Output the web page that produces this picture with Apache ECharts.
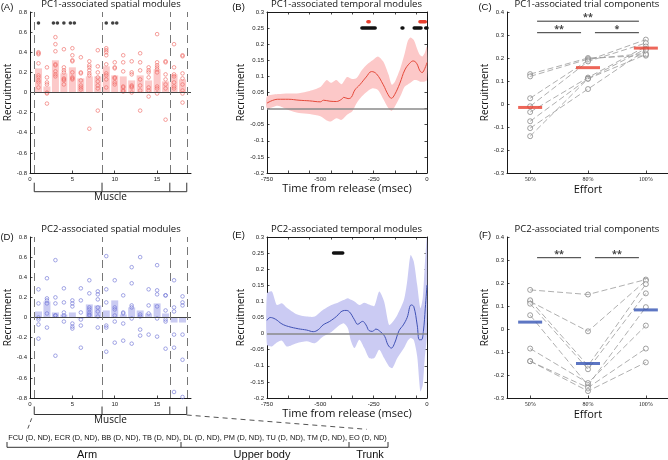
<!DOCTYPE html>
<html>
<head>
<meta charset="utf-8">
<script src="https://cdn.jsdelivr.net/npm/echarts@6/dist/echarts.min.js"></script>
<style>
html, body { margin: 0; padding: 0; background: #fff; }
#chart { width: 668px; height: 460px; }
</style>
</head>
<body>
<div id="chart"></div>
<script>
// ---- spatial modules (A, D) ----
const muscles = [1, 2, 3, 4, 5, 6, 7, 8, 9, 10, 11, 12, 13, 14, 15, 16, 17, 18];
const groupEdges = [0.5, 8.5, 16.5, 18.5];

const pc1Bars = [0.24, 0.06, 0.32, 0.19, 0.25, 0.14, 0.16, 0.16, 0.26, 0.17, 0.16, 0.12, 0.17, 0.12, 0.23, 0.11, 0.18, 0.13];
const pc1Dots = [
  [0.40, 0.39, 0.38, 0.29, 0.17, 0.15, 0.12, 0.10, 0.05],
  [0.25, 0.15, 0.10, 0.08, 0.00, -0.01, -0.11],
  [0.55, 0.48, 0.41, 0.28, 0.27, 0.21, 0.18, 0.16],
  [0.43, 0.25, 0.22, 0.20, 0.14, 0.13, 0.12, 0.08],
  [0.44, 0.37, 0.32, 0.31, 0.20, 0.15, 0.14, 0.13],
  [0.35, 0.20, 0.19, 0.12, 0.07, 0.05, 0.03],
  [0.31, 0.27, 0.25, 0.22, 0.19, 0.17, -0.36],
  [0.42, 0.26, 0.20, 0.15, 0.11, 0.07, 0.04, -0.18],
  [0.44, 0.42, 0.40, 0.37, 0.28, 0.19, 0.17, 0.13, 0.05],
  [0.30, 0.25, 0.24, 0.15, 0.14, 0.10, 0.08],
  [0.37, 0.30, 0.21, 0.06, 0.05, 0.02, 0.01],
  [0.31, 0.20, 0.18, 0.07, 0.06, 0.05, 0.00],
  [0.39, 0.30, 0.22, 0.13, 0.07, 0.02, -0.18],
  [0.25, 0.22, 0.20, 0.15, 0.05, 0.02, -0.04],
  [0.58, 0.30, 0.27, 0.25, 0.23, 0.20, 0.06, 0.04, -0.01],
  [0.31, 0.30, 0.18, 0.13, 0.08, 0.04, -0.27],
  [0.48, 0.25, 0.18, 0.16, 0.10, 0.06, 0.04],
  [0.37, 0.36, 0.19, 0.14, 0.08, 0.02, -0.01, -0.10]
];
const spatialSig1 = [[1, '*'], [3, '**'], [4, '*'], [5, '**'], [9, '*'], [10, '**']];
const sigLevelA = 0.69;

const pc2Bars = [0.06, 0.16, 0.05, 0.03, 0.05, -0.01, 0.13, 0.12, 0.07, 0.17, 0.03, 0.10, 0.07, 0.04, 0.14, 0.04, -0.05, -0.05];
const pc2Dots = [
  [0.28, 0.14, 0.00, -0.02, -0.07, -0.21],
  [0.39, 0.19, 0.17, 0.14, 0.04, -0.10],
  [0.57, 0.20, 0.14, 0.02, 0.02, -0.38],
  [0.29, 0.15, 0.05, 0.02, -0.04],
  [0.17, 0.14, 0.11, -0.06, -0.09, -0.11],
  [0.29, 0.17, 0.05, -0.02, -0.08, -0.30],
  [0.37, 0.24, 0.10, 0.08, 0.05, 0.03, 0.02],
  [0.26, 0.23, 0.18, 0.10, 0.06, 0.01, -0.10],
  [0.61, 0.28, 0.15, -0.08, -0.10, -0.34],
  [0.37, 0.10, 0.08, 0.02, -0.04, -0.25],
  [0.22, 0.05, 0.04, -0.06, -0.23],
  [0.50, 0.34, 0.12, 0.10, -0.01, -0.26],
  [0.60, 0.03, 0.01, -0.12, -0.18],
  [0.28, 0.12, 0.04, -0.17],
  [0.52, 0.27, 0.23, 0.11, -0.01, -0.19],
  [0.22, 0.22, 0.07, -0.02, -0.04, -0.31],
  [0.37, 0.10, 0.06, -0.17, -0.30, -0.74],
  [0.21, 0.15, 0.12, -0.17, -0.42, -0.79]
];

// ---- temporal modules (B, E) ----
const timeLabels = [-750, -500, -250, 0];
const timeTicks = [-650, -550, -450, -350, -250, -150, -50];

const meanTimeB = [-750, -700, -650, -600, -550, -500, -485, -455, -425, -400, -390, -370, -355, -338, -315, -285, -260, -237, -205, -182, -167, -152, -127, -104, -81, -65, -49, -33, -23, -10, 0];
const meanB = [0.017, 0.029, 0.029, 0.026, 0.024, 0.021, 0.026, 0.023, 0.022, 0.029, 0.035, 0.031, 0.035, 0.058, 0.074, 0.098, 0.115, 0.108, 0.074, 0.043, 0.032, 0.043, 0.079, 0.120, 0.141, 0.148, 0.141, 0.117, 0.112, 0.125, 0.143];
const bandTimeB = [-750, -700, -650, -600, -550, -500, -470, -450, -425, -400, -375, -350, -330, -305, -280, -255, -230, -205, -180, -165, -150, -125, -105, -90, -78, -62, -47, -34, -22, -11, 0];
const highB = [0.038, 0.045, 0.047, 0.048, 0.055, 0.067, 0.089, 0.080, 0.089, 0.076, 0.098, 0.092, 0.095, 0.120, 0.138, 0.150, 0.162, 0.146, 0.105, 0.074, 0.084, 0.125, 0.170, 0.210, 0.221, 0.213, 0.187, 0.167, 0.162, 0.172, 0.193];
const lowB = [0.001, 0.009, -0.004, -0.014, -0.017, -0.024, -0.037, -0.040, -0.030, -0.035, -0.019, -0.008, 0.017, 0.038, 0.053, 0.063, 0.058, 0.030, 0.000, -0.007, 0.007, 0.038, 0.068, 0.075, 0.080, 0.088, 0.088, 0.084, 0.083, 0.084, 0.089];
const sigBlackB = [[-305, -243], [-117, -113], [-60, -28], [-6, 0]];
const sigRedB = [[-277, -271], [-33, -8]];

const meanTimeE = [-750, -735, -711, -680, -649, -603, -564, -533, -510, -487, -456, -425, -394, -379, -363, -340, -325, -302, -286, -271, -255, -240, -217, -198, -183, -167, -152, -131, -111, -93, -74, -62, -46, -36, -26, -17, -8, 0];
const meanE = [0.041, 0.050, 0.045, 0.030, 0.022, 0.015, 0.011, 0.006, 0.012, 0.027, 0.038, 0.053, 0.071, 0.072, 0.067, 0.043, 0.029, 0.038, 0.027, 0.009, 0.007, 0.014, 0.005, -0.009, -0.035, -0.045, -0.030, 0.009, 0.027, 0.050, 0.089, 0.084, 0.027, -0.019, -0.019, 0.007, 0.079, 0.151];
const bandTimeE = [-750, -727, -704, -680, -657, -611, -564, -526, -487, -448, -418, -391, -371, -356, -340, -317, -294, -271, -247, -224, -201, -178, -162, -139, -108, -93, -77, -62, -46, -31, -20, -11, 0];
const highE = [0.125, 0.131, 0.089, 0.094, 0.080, 0.060, 0.053, 0.053, 0.074, 0.089, 0.096, 0.104, 0.110, 0.105, 0.100, 0.089, 0.096, 0.090, 0.086, 0.131, 0.100, 0.027, 0.035, 0.058, 0.105, 0.162, 0.244, 0.224, 0.151, 0.079, 0.110, 0.203, 0.300];
const lowE = [-0.035, -0.040, -0.028, -0.022, -0.040, -0.030, -0.024, -0.030, -0.009, 0.005, 0.022, 0.032, 0.017, -0.024, -0.045, -0.019, -0.045, -0.076, -0.076, -0.050, -0.076, -0.102, -0.107, -0.076, -0.045, -0.025, -0.014, -0.020, -0.070, -0.180, -0.160, -0.080, 0.001];
const sigBlackE = [[-438, -395]];
const sigLevelT = 0.25;
const sigLevelTRed = 0.27;

// ---- trial components (C, F) ----
const efforts = ['50%', '80%', '100%'];
const pc1Trials = [
  [0.13, 0.20, 0.21],
  [0.12, 0.195, 0.22],
  [0.025, 0.19, 0.28],
  [-0.01, 0.185, 0.265],
  [-0.035, 0.115, 0.25],
  [-0.075, 0.11, 0.24],
  [-0.105, 0.065, 0.235],
  [-0.14, 0.11, 0.215]
];
const pc1Means = [-0.015, 0.158, 0.243];
const trialSig1 = [[1, 2, 0.31, '**'], [2, 3, 0.31, '*'], [1, 3, 0.36, '**']];

const pc2Trials = [
  [0.17, 0.15, 0.215],
  [0.12, -0.01, 0.21],
  [0.125, -0.16, 0.195],
  [0.11, -0.175, 0.155],
  [0.06, -0.245, 0.095],
  [-0.085, -0.235, 0.015],
  [-0.14, -0.255, -0.085],
  [-0.14, -0.27, -0.145]
];
const pc2Means = [0.03, -0.15, 0.083];
const trialSig2 = [[1, 2, 0.31, '**'], [2, 3, 0.31, '**']];

// ---- layout ----
const grids = [
  { left: 30, top: 12, width: 161, height: 161 },
  { left: 267, top: 12, width: 160, height: 161 },
  { left: 507, top: 12, width: 162, height: 161 },
  { left: 30, top: 237, width: 161, height: 161 },
  { left: 267, top: 237, width: 160, height: 161 },
  { left: 507, top: 237, width: 162, height: 161 }
];

const AX = '#1a1a1a';
const tickLbl = { fontSize: 6, color: '#222', fontFamily: 'Liberation Sans', margin: 3 };
const nameStyle = { fontSize: 10, color: '#111', fontFamily: 'Open Sans' };

function axis(grid, extra) {
  return Object.assign({
    gridIndex: grid,
    type: 'value',
    axisLine: { show: true, onZero: false, lineStyle: { color: AX, width: 1 } },
    axisTick: { show: true, inside: true, length: 2.5, lineStyle: { color: AX, width: 0.8 } },
    axisLabel: Object.assign({}, tickLbl),
    splitLine: { show: false }
  }, extra);
}

function tickOnly(vals) {
  return { show: true, inside: true, length: 2.5, lineStyle: { color: AX, width: 0.8 }, customValues: vals };
}

const xAxis = [
  axis(0, { min: 0, max: 19, interval: 5, axisLabel: Object.assign({}, tickLbl, { showMaxLabel: false }) }),
  axis(1, { min: -750, max: 0, axisLabel: Object.assign({}, tickLbl, { customValues: timeLabels }), axisTick: tickOnly(timeTicks),
    name: 'Time from release (msec)', nameLocation: 'middle', nameGap: 10, nameTextStyle: Object.assign({}, nameStyle, { fontSize: 11 }) }),
  axis(1, { position: 'top', min: -750, max: 0, axisLabel: { show: false }, axisTick: tickOnly(timeTicks) }),
  axis(2, { min: 0.6, max: 3.4, axisLabel: Object.assign({}, tickLbl, { fontFamily: 'Liberation Serif', customValues: [1, 2, 3], formatter: v => efforts[Math.round(v) - 1] }),
    axisTick: tickOnly([1, 2, 3]), name: 'Effort', nameLocation: 'middle', nameGap: 11, nameTextStyle: Object.assign({}, nameStyle, { fontSize: 11 }) }),
  axis(3, { min: 0, max: 19, interval: 5, axisLabel: Object.assign({}, tickLbl, { showMaxLabel: false }) }),
  axis(4, { min: -750, max: 0, axisLabel: Object.assign({}, tickLbl, { customValues: timeLabels }), axisTick: tickOnly(timeTicks),
    name: 'Time from release (msec)', nameLocation: 'middle', nameGap: 10, nameTextStyle: Object.assign({}, nameStyle, { fontSize: 11 }) }),
  axis(4, { position: 'top', min: -750, max: 0, axisLabel: { show: false }, axisTick: tickOnly(timeTicks) }),
  axis(5, { min: 0.6, max: 3.4, axisLabel: Object.assign({}, tickLbl, { fontFamily: 'Liberation Serif', customValues: [1, 2, 3], formatter: v => efforts[Math.round(v) - 1] }),
    axisTick: tickOnly([1, 2, 3]), name: 'Effort', nameLocation: 'middle', nameGap: 11, nameTextStyle: Object.assign({}, nameStyle, { fontSize: 11 }) })
];

const yName = { name: 'Recruitment', nameLocation: 'middle', nameTextStyle: nameStyle };
const yAxis = [
  axis(0, Object.assign({ min: -0.8, max: 0.8, interval: 0.2, nameGap: 16 }, yName)),
  axis(1, Object.assign({ min: -0.2, max: 0.3, interval: 0.05, nameGap: 19 }, yName)),
  axis(1, { position: 'right', min: -0.2, max: 0.3, interval: 0.05, axisLabel: { show: false } }),
  axis(2, Object.assign({ min: -0.3, max: 0.4, interval: 0.1, nameGap: 16 }, yName)),
  axis(3, Object.assign({ min: -0.8, max: 0.8, interval: 0.2, nameGap: 16 }, yName)),
  axis(4, Object.assign({ min: -0.2, max: 0.3, interval: 0.05, nameGap: 19 }, yName)),
  axis(4, { position: 'right', min: -0.2, max: 0.3, interval: 0.05, axisLabel: { show: false } }),
  axis(5, Object.assign({ min: -0.3, max: 0.4, interval: 0.1, nameGap: 16 }, yName))
];

// ---- series builders ----
function spatialSeries(xi, yi, bars, dots, barColor, dotColor, sig) {
  const out = [];
  out.push({
    type: 'bar', xAxisIndex: xi, yAxisIndex: yi, barWidth: 7,
    data: muscles.map((m, i) => [m, bars[i]]),
    itemStyle: { color: barColor },
    markLine: {
      silent: true, symbol: 'none', label: { show: false }, animation: false,
      data: [{ yAxis: 0, lineStyle: { color: '#444', type: 'solid', width: 1.2 } }]
        .concat(groupEdges.map(v => ({ xAxis: v, lineStyle: { color: '#777', type: [8, 5], width: 1 } })))
    }
  });
  const pts = [];
  dots.forEach((arr, i) => arr.forEach(v => pts.push([muscles[i], v])));
  out.push({
    type: 'scatter', xAxisIndex: xi, yAxisIndex: yi, symbol: 'circle', symbolSize: 3.6, data: pts,
    itemStyle: { color: 'rgba(0,0,0,0)', borderColor: dotColor, borderWidth: 0.8 }
  });
  if (sig) {
    const stars = [];
    sig.forEach(([m, s]) => {
      const n = s.length;
      for (let k = 0; k < n; k++) stars.push([m + (k - (n - 1) / 2) * 0.47, sigLevelA]);
    });
    out.push({ type: 'scatter', xAxisIndex: xi, yAxisIndex: yi, symbol: 'circle', symbolSize: 3.6, data: stars, itemStyle: { color: '#111' } });
  }
  return out;
}

function temporalSeries(xi, yi, tMean, mean, tBand, low, high, bandColor, lineColor, sigs) {
  const out = [];
  // confidence band as one filled polygon: upper edge forward, lower edge back
  out.push({
    type: 'custom', xAxisIndex: xi, yAxisIndex: yi, silent: true,
    data: tBand.map((t, i) => [t, low[i], high[i]]),
    encode: { x: 0, y: [1, 2] },
    renderItem(params, api) {
      if (params.dataIndex !== 0) return null;
      const up = tBand.map((t, i) => api.coord([t, high[i]]));
      const dn = tBand.map((t, i) => api.coord([t, low[i]])).reverse();
      return { type: 'polygon', shape: { points: up.concat(dn), smooth: 0.25 }, style: { fill: bandColor } };
    }
  });
  out.push({
    type: 'line', xAxisIndex: xi, yAxisIndex: yi, symbol: 'none', smooth: 0.4,
    data: tMean.map((t, i) => [t, mean[i]]), lineStyle: { color: lineColor, width: 1 },
    markLine: { silent: true, symbol: 'none', label: { show: false }, animation: false,
      data: [{ yAxis: 0, lineStyle: { color: '#8a8a8a', type: 'solid', width: 1.5 } }] }
  });
  sigs.forEach(([segs, level, color]) => {
    segs.forEach(([a, b]) => out.push({
      type: 'line', xAxisIndex: xi, yAxisIndex: yi, symbol: 'none',
      data: [[a, level], [b, level]], lineStyle: { color, width: 3.5, cap: 'round' }
    }));
  });
  return out;
}

function trialSeries(xi, yi, trials, means, meanColor, sig) {
  const out = [];
  trials.forEach(row => out.push({
    type: 'line', xAxisIndex: xi, yAxisIndex: yi, symbol: 'none',
    data: row.map((v, j) => [j + 1, v]), lineStyle: { color: '#9a9a9a', width: 0.8, type: [6, 3] }
  }));
  const pts = [];
  trials.forEach(row => row.forEach((v, j) => pts.push([j + 1, v])));
  out.push({
    type: 'scatter', xAxisIndex: xi, yAxisIndex: yi, symbol: 'circle', symbolSize: 5, data: pts,
    itemStyle: { color: '#fff', borderColor: '#6e6e6e', borderWidth: 0.8 }
  });
  out.push({
    type: 'scatter', xAxisIndex: xi, yAxisIndex: yi, symbol: 'rect', symbolSize: [24, 3], z: 5,
    data: means.map((v, j) => [j + 1, v]), itemStyle: { color: meanColor }
  });
  sig.forEach(([a, b, level, s]) => {
    out.push({
      type: 'line', xAxisIndex: xi, yAxisIndex: yi, symbol: 'none',
      data: [[a + 0.12, level], [b - 0.12, level]], lineStyle: { color: '#333', width: 1 }
    });
    out.push({
      type: 'scatter', xAxisIndex: xi, yAxisIndex: yi, symbolSize: 0, data: [[(a + b) / 2, level]],
      label: { show: true, position: 'top', distance: -1, formatter: s, fontSize: 9, fontWeight: 'bold', color: '#111' }
    });
  });
  return out;
}

const series = [].concat(
  spatialSeries(0, 0, pc1Bars, pc1Dots, '#fcc9c9', '#ef6a64', spatialSig1),
  temporalSeries(1, 1, meanTimeB, meanB, bandTimeB, lowB, highB, '#fcc8c8', '#e5493a',
    [[sigBlackB, sigLevelT, '#111'], [sigRedB, sigLevelTRed, '#e8402f']]),
  trialSeries(3, 3, pc1Trials, pc1Means, '#e8402f', trialSig1),
  spatialSeries(4, 4, pc2Bars, pc2Dots, '#cacbf2', '#6f74d6', null),
  temporalSeries(5, 5, meanTimeE, meanE, bandTimeE, lowE, highE, '#cbcbf3', '#3f51b5',
    [[sigBlackE, sigLevelT, '#111']]),
  trialSeries(7, 7, pc2Trials, pc2Means, '#3454b4', trialSig2)
);

// ---- free text and brackets ----
function txt(text, x, y, size, family, extra) {
  return { type: 'text', x, y, silent: true,
    style: Object.assign({ text, fontSize: size, fontFamily: family || 'Open Sans', fill: '#111', align: 'center', verticalAlign: 'middle' }, extra) };
}
function seg(x1, y1, x2, y2, style) {
  return { type: 'line', silent: true, shape: { x1, y1, x2, y2 }, style: Object.assign({ stroke: '#333', lineWidth: 1 }, style) };
}
function muscleX(g, v) { return g.left + v / 19 * g.width; }
function muscleBracket(g, yTop, yBase) {
  const xs = groupEdges.map(v => muscleX(g, v));
  const els = [seg(xs[0], yBase, xs[xs.length - 1], yBase)];
  xs.forEach(x => els.push(seg(x, yTop, x, yBase)));
  return els;
}

const graphic = [
  txt('(A)', 7, 7.5, 9.5, 'Liberation Sans'),
  txt('(B)', 238.5, 7.5, 9.5, 'Liberation Sans'),
  txt('(C)', 485, 7.5, 9.5, 'Liberation Sans'),
  txt('(D)', 7, 237, 9.5, 'Liberation Sans'),
  txt('(E)', 238.5, 235, 9.5, 'Liberation Sans'),
  txt('(F)', 485, 235, 9.5, 'Liberation Sans'),
  txt('PC1-associated spatial modules', 111, 4.5, 9.5),
  txt('PC1-associated temporal modules', 346.5, 4.5, 9.5),
  txt('PC1-associated trial components', 587, 4.5, 9.5),
  txt('PC2-associated spatial modules', 111, 229, 9.5),
  txt('PC2-associated temporal modules', 346.5, 229, 9.5),
  txt('PC2-associated trial components', 587, 229, 9.5),
  txt('Muscle', 110.5, 197, 10),
  txt('Muscle', 110.5, 420, 10),
  seg(31.7, 418.3, 27.3, 430, { stroke: '#555', lineDash: [4, 3] }),
  seg(186.7, 415, 366.7, 429.3, { stroke: '#555', lineDash: [5, 4] }),
  txt('FCU (D, ND), ECR (D, ND), BB (D, ND), TB (D, ND), DL (D, ND), PM (D, ND), TU (D, ND), TM (D, ND), EO (D, ND)', 197.5, 437.5, 7.4, 'Liberation Sans'),
  seg(7, 447.3, 388, 447.3),
  seg(7, 442, 7, 447.3), seg(181, 442, 181, 447.3), seg(349, 442, 349, 447.3), seg(388, 442, 388, 447.3),
  txt('Arm', 87, 454.5, 11, 'Liberation Sans'),
  txt('Upper body', 262, 454.5, 11, 'Liberation Sans'),
  txt('Trunk', 370, 454.5, 11, 'Liberation Sans')
].concat(muscleBracket(grids[0], 182.7, 191.7), muscleBracket(grids[3], 406.5, 414.5));

const chart = echarts.init(document.getElementById('chart'));
chart.setOption({
  animation: false,
  backgroundColor: '#fff',
  textStyle: { fontFamily: 'Open Sans' },
  grid: grids.map(g => Object.assign({ outerBoundsMode: 'none', containLabel: false }, g)),
  xAxis,
  yAxis,
  series,
  graphic
});
</script>
</body>
</html>
